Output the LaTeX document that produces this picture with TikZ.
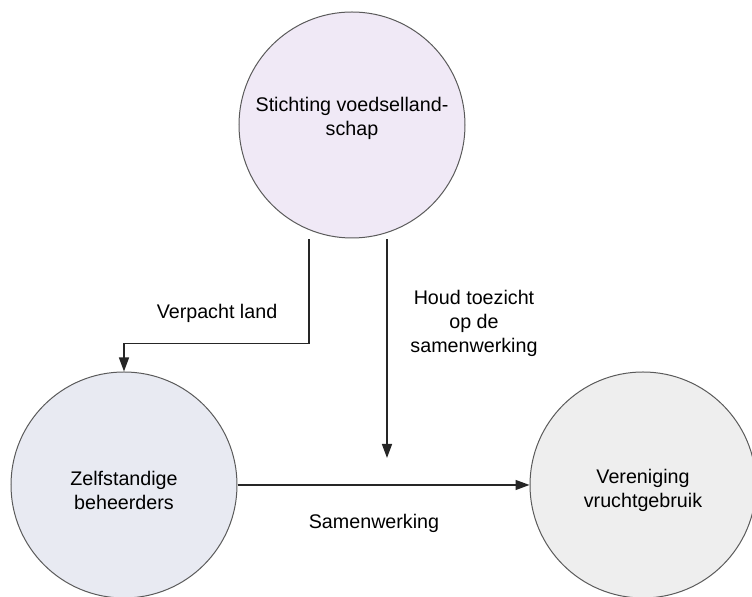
\documentclass[tikz,border=0pt]{standalone}
\usepackage{fontspec}
\setmainfont{Liberation Sans}
\usetikzlibrary{arrows.meta}
\definecolor{stichtingfill}{RGB}{240,233,246}
\definecolor{beheerfill}{RGB}{232,234,242}
\definecolor{verenfill}{RGB}{238,238,238}
\definecolor{rand}{RGB}{90,90,90}
\begin{document}
\begin{tikzpicture}[x=0.5pt,y=-0.5pt,
		org/.style={draw=rand,line width=0.5pt,circle,minimum size=113pt,inner sep=0pt,align=center,font=\fontsize{9.85}{12}\selectfont},
		lbl/.style={align=center,font=\fontsize{9.85}{12}\selectfont},
		arr/.style={line width=0.7pt,draw=black!85,-{Triangle[length=7pt,width=5pt]}}]
		\useasboundingbox (0,0) rectangle (752,597);
		\clip (0,0) rectangle (752,597);

		\draw (352,125) node (a)[org,fill=stichtingfill,text depth=9pt]{Stichting voedselland-\\schap};
		\draw (124,485) node (b)[org,fill=beheerfill,text height=25pt]{Zelfstandige\\beheerders};
		\draw (643,485) node (c)[org,fill=verenfill,text height=25pt]{Vereniging\\vruchtgebruik};

		\coordinate (t) at (387,458);
		\draw[arr] (a.south) ++(-43,1) -- ++(0,104) -| (b.north);
		\draw[arr] (a.south -| t) ++(0,1) -- (t);
		\draw[arr] (b.east)--(c.west);

		\draw (217,313) node (l1)[lbl]{Verpacht land};
		\draw (474,323) node (l2)[lbl]{Houd toezicht\\op de\\samenwerking};
		\draw (374,523) node (l3)[lbl]{Samenwerking};
	\end{tikzpicture}
\end{document}
